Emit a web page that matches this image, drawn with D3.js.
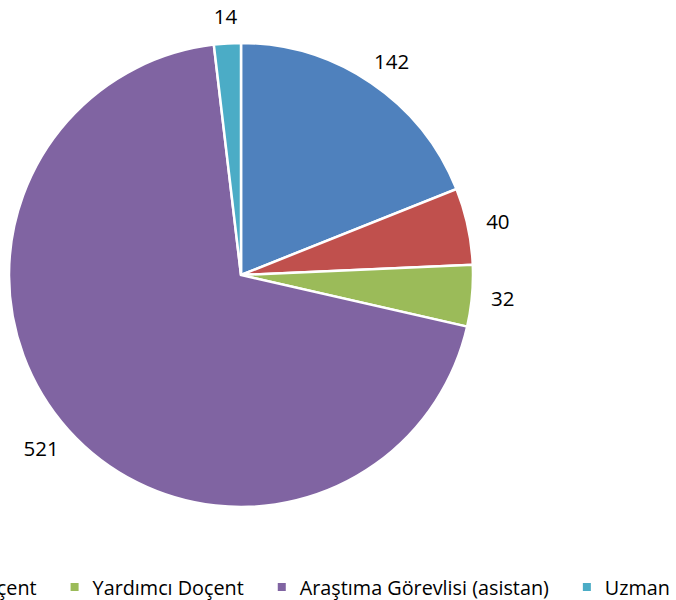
<!DOCTYPE html>
<html>
<head>
<meta charset="utf-8">
<script src="https://cdn.jsdelivr.net/npm/d3@7"></script>
<style>
  html, body { margin: 0; padding: 0; background: #fff; }
  svg { display: block; }
</style>
</head>
<body>
<svg id="chart" width="676" height="600"></svg>
<script>
const categories = ["Profesör", "Doçent", "Yardımcı Doçent", "Araştıma Görevlisi (asistan)", "Uzman"];
const values = [142, 40, 32, 521, 14];
const colors = ["#4F81BD", "#C0504D", "#9BBB59", "#8064A2", "#4BACC6"];

const svg = d3.select("#chart");
const cx = 241, cy = 275, R = 232, labelGap = 19;
const font = "'Open Sans', Lato, sans-serif";

const data = categories.map((c, i) => ({ name: c, value: values[i], color: colors[i] }));
const pie = d3.pie().value(d => d.value).sort(null);
const arcs = pie(data);
const arc = d3.arc().innerRadius(0).outerRadius(R);

const g = svg.append("g").attr("transform", `translate(${cx},${cy})`);
g.selectAll("path.slice").data(arcs).join("path")
  .attr("class", "slice")
  .attr("d", arc)
  .attr("fill", d => d.data.color)
  .attr("stroke", "#fff")
  .attr("stroke-width", 2.5)
  .attr("stroke-linejoin", "miter");

// Labels placed outside the edge, offset by their own half-size (like Excel "outside end")
const labels = g.selectAll("text.lbl").data(arcs).join("text")
  .attr("class", "lbl")
  .attr("text-anchor", "middle")
  .attr("dominant-baseline", "central")
  .attr("font-family", font)
  .attr("font-size", 20.5)
  .attr("fill", "#000")
  .text(d => d.data.value);
labels.attr("transform", function (d) {
  const a = (d.startAngle + d.endAngle) / 2;
  const s = Math.sin(a), c = Math.cos(a);
  const hw = this.getComputedTextLength() / 2, hh = 8;
  const x = (R + labelGap) * s + hw * s;
  const y = -(R + labelGap) * c - hh * c;
  return `translate(${x},${y})`;
});

// Legend (overflows to the left like the original)
const legend = svg.append("g");
const legendY = 587;
const markerSize = 8, textOffset = 22, gap = 34;
const items = legend.selectAll("g.item").data(data).join("g").attr("class", "item");
items.append("rect")
  .attr("width", markerSize).attr("height", markerSize)
  .attr("y", legendY - markerSize / 2)
  .attr("fill", d => d.color);
items.append("text")
  .attr("x", textOffset)
  .attr("y", legendY)
  .attr("dominant-baseline", "central")
  .attr("font-family", font)
  .attr("font-size", 19.8)
  .attr("fill", "#000")
  .text(d => d.name);

const widths = [];
items.each(function () { widths.push(d3.select(this).select("text").node().getComputedTextLength()); });
let xEnd = 670;
const xs = new Array(data.length);
for (let i = data.length - 1; i >= 0; i--) {
  const x = xEnd - widths[i] - textOffset;
  xs[i] = x;
  xEnd = x - gap;
}
items.attr("transform", (d, i) => `translate(${xs[i]},0)`);
</script>
</body>
</html>
